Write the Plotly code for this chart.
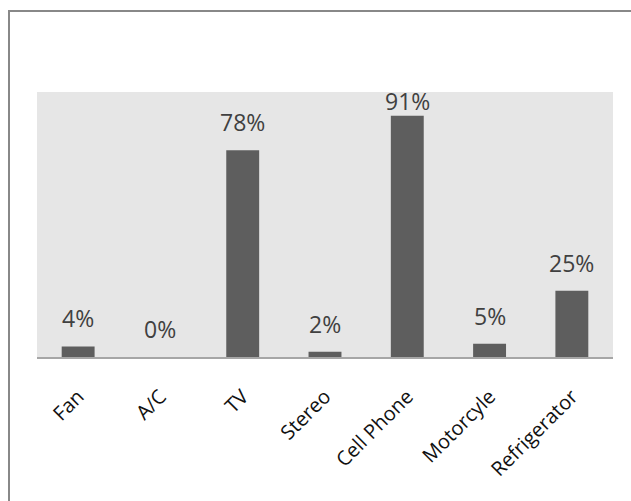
import plotly.graph_objects as go

categories = ["Fan", "A/C", "TV", "Stereo", "Cell Phone", "Motorcyle", "Refrigerator"]
values = [0.04, 0.00, 0.78, 0.02, 0.91, 0.05, 0.25]
labels = ["4%", "0%", "78%", "2%", "91%", "5%", "25%"]

W, H = 631, 501
L, R, T, B = 37, 18, 92, 144
plot_h = H - T - B
ymax = 1.0

fig = go.Figure()
fig.add_trace(go.Bar(
    x=categories, y=values,
    marker=dict(color="#5e5e5e", line=dict(width=0)),
    width=0.4,
    hoverinfo="skip",
))

for c, v, t in zip(categories, values, labels):
    space = (ymax - v) * plot_h
    shift = min(17, space - 20) - 7
    fig.add_annotation(x=c, y=v, text=t, showarrow=False, yanchor="bottom",
                       yshift=shift, font=dict(family="Open Sans", size=23, color="#404040"))

fig.add_shape(type="rect", xref="paper", yref="paper",
              x0=(9 - L) / (W - L - R), x1=(W + 20 - L) / (W - L - R),
              y0=-(H + 20 - (H - B)) / plot_h, y1=((H - B) - 11) / plot_h,
              line=dict(color="#888888", width=2), fillcolor="rgba(0,0,0,0)", layer="below")

fig.update_layout(
    width=W, height=H,
    margin=dict(l=L, r=R, t=T, b=B, autoexpand=False),
    paper_bgcolor="white", plot_bgcolor="#e6e6e6",
    showlegend=False,
    xaxis=dict(tickangle=-45, showgrid=False, showline=True, linecolor="#a6a6a6", linewidth=2,
               ticks="", ticklabelstandoff=18,
               tickfont=dict(family="Open Sans", size=20, color="#111111")),
    yaxis=dict(range=[0, ymax], visible=False, showgrid=False, fixedrange=True),
)

fig.write_html("out.html")
